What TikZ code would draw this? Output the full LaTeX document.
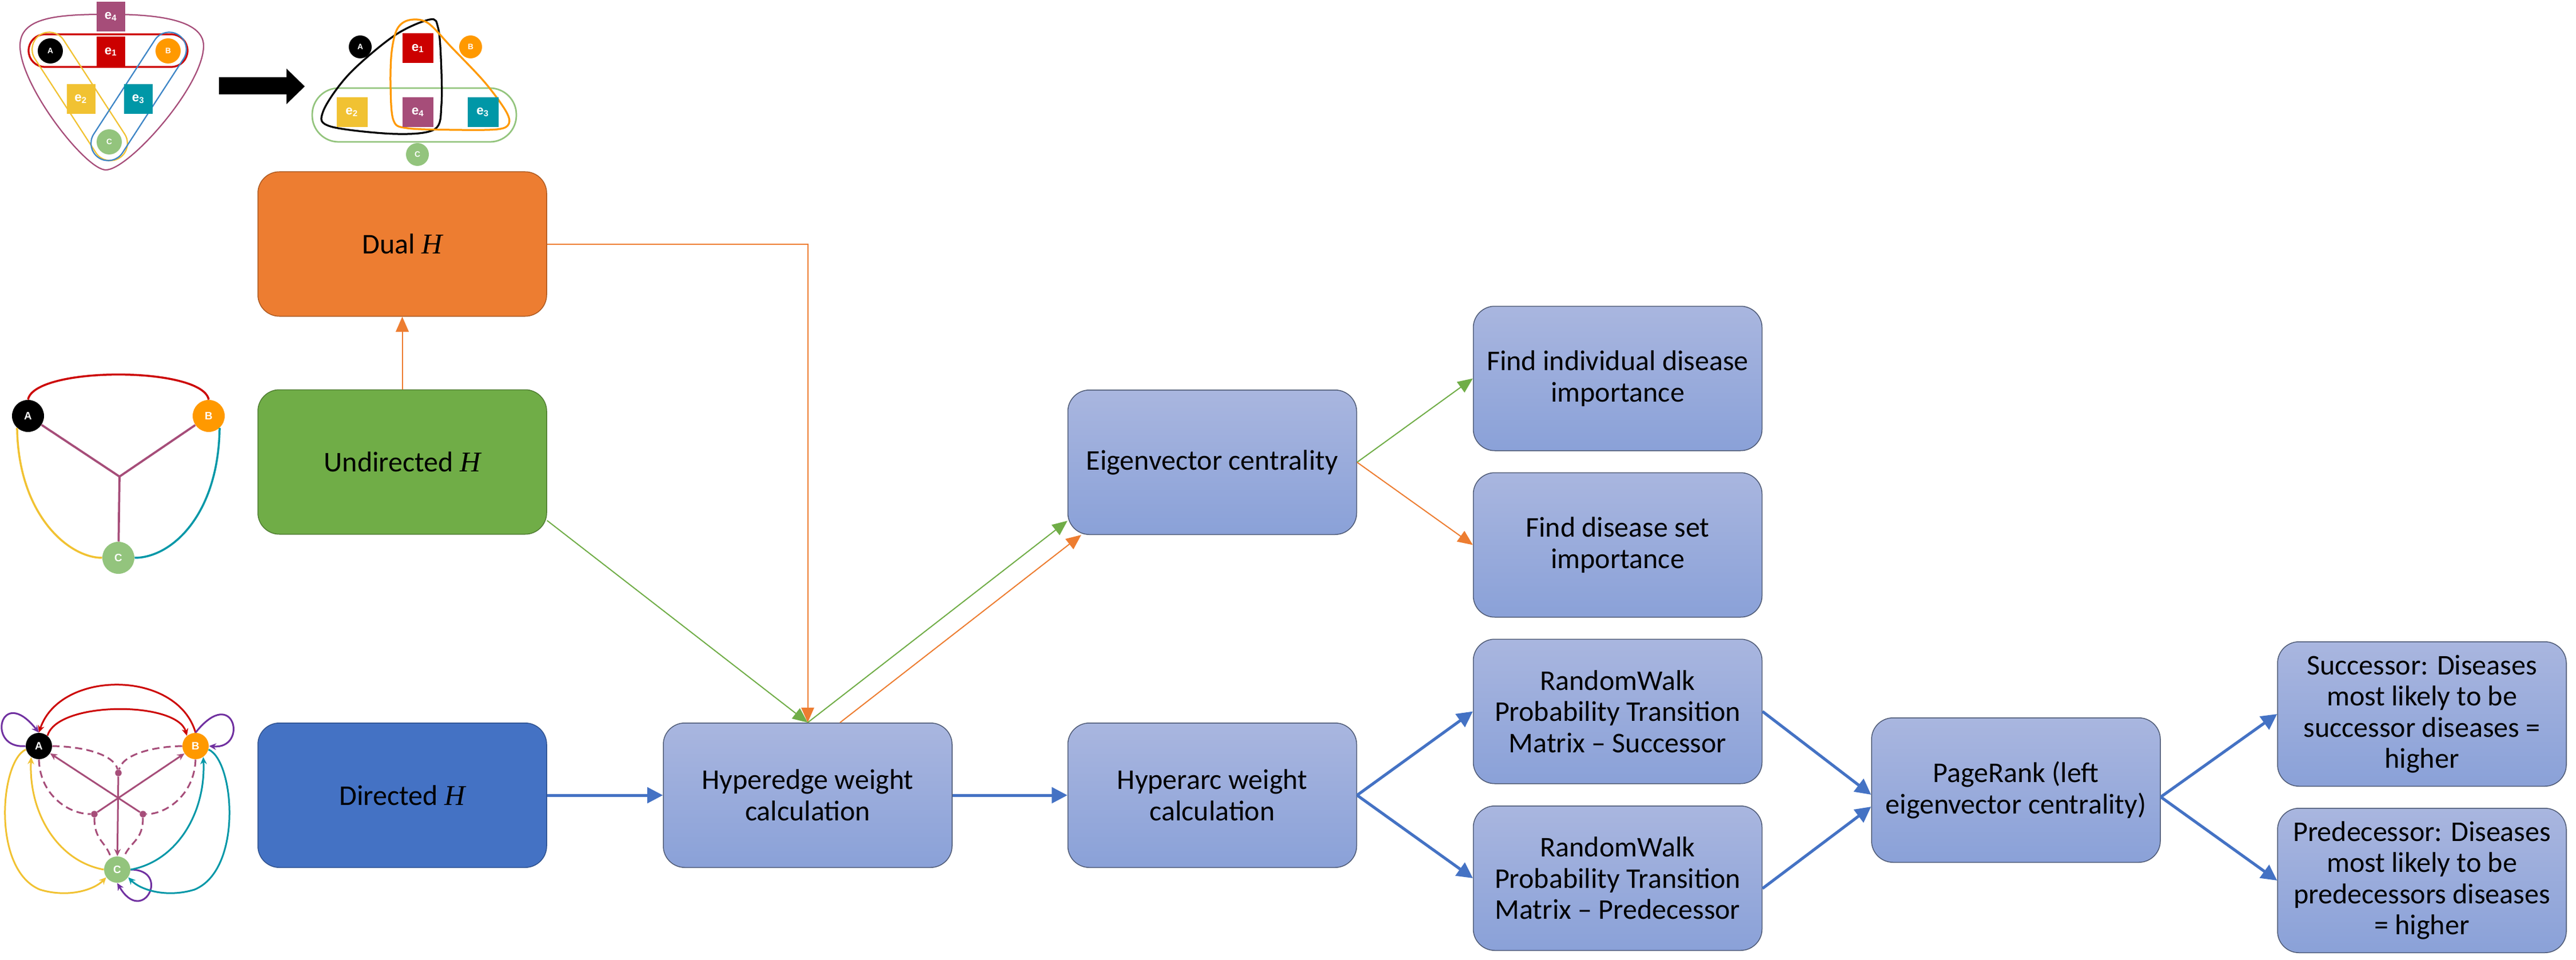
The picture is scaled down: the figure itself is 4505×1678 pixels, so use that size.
\documentclass[tikz,border=0pt]{standalone}
\usepackage{fontspec}
\setmainfont{Carlito}
\newfontfamily\hfont{Liberation Serif}
\newfontfamily\lsans{Liberation Sans}
\usetikzlibrary{arrows.meta,calc}
\definecolor{dualfill}{HTML}{ED7D31}
\definecolor{dualline}{HTML}{AE5A21}
\definecolor{undfill}{HTML}{70AD47}
\definecolor{undline}{HTML}{507E32}
\definecolor{dirfill}{HTML}{4472C4}
\definecolor{dirline}{HTML}{2F528F}
\definecolor{ltop}{HTML}{A9B6DF}
\definecolor{lbot}{HTML}{8AA1D8}
\definecolor{lline}{HTML}{4E5A75}
\definecolor{arrblue}{HTML}{4472C4}
\definecolor{arrorange}{HTML}{ED7D31}
\definecolor{arrgreen}{HTML}{70AD47}
\definecolor{nB}{HTML}{FF9900}
\definecolor{nC}{HTML}{93C47D}
\definecolor{ered}{HTML}{CC0000}
\definecolor{eyel}{HTML}{F1C232}
\definecolor{eteal}{HTML}{0097A7}
\definecolor{epur}{HTML}{A64D79}
\definecolor{loopp}{HTML}{7030A0}
\definecolor{eblue}{HTML}{3D85C6}
\newcommand\boxfont{\fontsize{20}{21.8}\selectfont}
\newcommand\Hsym{{\hfont\itshape H}}
\begin{document}
\begin{tikzpicture}[x=0.4pt,y=-0.4pt,
  box/.style={rounded corners=15pt, minimum width=202pt, minimum height=101pt, align=center, font=\boxfont, inner sep=2pt},
  lbox/.style={box, draw=lline, line width=0.6pt, top color=ltop, bottom color=lbot},
  thinO/.style={draw=arrorange, line width=0.8pt, -{Triangle[length=10.5pt,width=9pt]}},
  thinG/.style={draw=arrgreen, line width=0.8pt, -{Triangle[length=10.5pt,width=9pt]}},
  bigB/.style={draw=arrblue, line width=2pt, -{Triangle[length=11pt,width=11pt]}},
  esq/.style={minimum width=20pt, minimum height=20.8pt, inner sep=0pt, text=white, font=\lsans\bfseries\fontsize{9}{9}\selectfont},
  scirc/.style={circle, minimum size=17pt, inner sep=0pt, text=white, font=\lsans\bfseries\fontsize{5.5}{5.5}\selectfont},
  ucirc/.style={circle, minimum size=22.4pt, inner sep=0pt, text=white, font=\lsans\bfseries\fontsize{7.5}{7.5}\selectfont},
  dcirc/.style={circle, minimum size=18.4pt, inner sep=0pt, text=white, font=\lsans\bfseries\fontsize{7.5}{7.5}\selectfont},
  dot/.style={circle, fill=epur, minimum size=4.6pt, inner sep=0pt},
  dtip/.style={-{Stealth[length=5pt,width=4.6pt]}},
  dash2/.style={epur, line width=1.2pt, dash pattern=on 5pt off 3pt},
]
\useasboundingbox (0,0) rectangle (4505,1678);

% ---------- top-left hypergraph ----------
\draw[epur, line width=0.9pt] (191,25) .. controls (265,25) and (356,32) .. (356,80)
  .. controls (356,150) and (225,297) .. (185,297)
  .. controls (150,297) and (35,150) .. (35,80)
  .. controls (35,30) and (100,25) .. (191,25) -- cycle;
\draw[ered, line width=1.3pt, rounded corners=11.4pt] (50,60) rectangle (328,117);
\begin{scope}[shift={(139.5,168.5)}, rotate=-57]
  \draw[eyel, line width=0.9pt, rounded corners=12pt] (-128,-30) rectangle (128,30);
\end{scope}
\begin{scope}[shift={(242.5,168.5)}, rotate=57]
  \draw[eblue, line width=0.9pt, rounded corners=12pt] (-128,-30) rectangle (128,30);
\end{scope}
\node[esq, fill=epur] (le4) at (194,29) {e\textsubscript{4}};
\node[esq, fill=ered] (le1) at (194,90.5) {e\textsubscript{1}};
\node[esq, fill=eyel] (le2) at (141.5,173) {e\textsubscript{2}};
\node[esq, fill=eteal] (le3) at (242,173) {e\textsubscript{3}};
\node[scirc, fill=black, minimum size=17.6pt] (lA) at (88,89) {A};
\node[scirc, fill=nB, minimum size=17.6pt] (lB) at (294,89) {B};
\node[scirc, fill=nC, minimum size=17.6pt] (lC) at (191,248) {C};

% big black arrow
\fill (383,135) -- (501,135) -- (501,120) -- (533,151) -- (501,182) -- (501,165) -- (383,165) -- cycle;

% ---------- top-right dual ----------
\draw[nC, line width=1.1pt, rounded corners=18.5pt] (546,154) rectangle (903,248);
\draw[black, line width=1.3pt] plot[smooth cycle, tension=0.55] coordinates {(752,34) (690,62) (610,130) (565,195) (578,221) (690,234) (760,226) (772,183) (771,100) (766,48)};
\draw[nB, line width=1.3pt] plot[smooth cycle, tension=0.55] coordinates {(716,35) (748,40) (790,83) (847,143) (884,193) (890,216) (870,226) (797,227) (712,224) (688,210) (683,150) (685,90) (695,50)};
\node[esq, fill=ered, minimum width=21.6pt] (re1) at (731,84.5) {e\textsubscript{1}};
\node[esq, fill=eyel, minimum width=21.6pt] (re2) at (615.5,196) {e\textsubscript{2}};
\node[esq, fill=epur, minimum width=21.6pt] (re4) at (731,196) {e\textsubscript{4}};
\node[esq, fill=eteal, minimum width=21.6pt] (re3) at (844.5,196) {e\textsubscript{3}};
\node[scirc, fill=black, minimum size=16pt] (rA) at (630,82) {A};
\node[scirc, fill=nB, minimum size=16pt] (rB) at (823,82) {B};
\node[scirc, fill=nC, minimum size=16pt] (rC) at (730,270) {C};

% ---------- undirected graph ----------
\node[ucirc, fill=black] (uA) at (49,727) {A};
\node[ucirc, fill=nB] (uB) at (365,727) {B};
\node[ucirc, fill=nC] (uC) at (207,975) {C};
\coordinate (uJ) at (209,833);
\draw[ered, line width=1.4pt] (uA.north) .. controls (60,640) and (354,640) .. (uB.north);
\draw[eyel, line width=1.4pt] (uA.228) .. controls (32,900) and (120,975) .. (uC.west);
\draw[eteal, line width=1.4pt] (uB.-48) .. controls (382,900) and (300,975) .. (uC.east);
\draw[epur, line width=1.5pt] (uA) -- (uJ) -- (uC);
\draw[epur, line width=1.5pt] (uB) -- (uJ);

% ---------- directed graph ----------
\node[dcirc, fill=black] (dA) at (68,1304) {A};
\node[dcirc, fill=nB] (dB) at (342,1304) {B};
\node[dcirc, fill=nC] (dC) at (205,1520) {C};
\node[dot] (dT) at (207,1351) {};
\node[dot] (dL) at (165,1423) {};
\node[dot] (dR) at (250,1423) {};
\draw[ered, line width=1.2pt, dtip] (dB.north) .. controls (310,1170) and (105,1170) .. (dA.north);
\draw[ered, line width=1.2pt, dtip] (dA.50) .. controls (100,1225) and (310,1225) .. (dB.130);
\draw[loopp, line width=1.2pt, dtip] (dA.west) .. controls (-25,1310) and (0,1195) .. (dA.north);
\draw[loopp, line width=1.2pt, dtip] (dB.north) .. controls (410,1195) and (435,1310) .. (dB.east);
\draw[loopp, line width=1.2pt, dtip] (dC.east) .. controls (300,1520) and (250,1620) .. (dC.south);
\draw[eyel, line width=1.2pt, dtip] (dC.west) .. controls (100,1505) and (50,1420) .. (dA.235);
\draw[eyel, line width=1.2pt, dtip] (dA.195) .. controls (0,1330) and (-15,1520) .. (70,1555) .. controls (120,1570) and (165,1555) .. (dC.215);
\draw[eteal, line width=1.2pt, dtip] (dC.east) .. controls (310,1505) and (360,1420) .. (dB.305);
\draw[eteal, line width=1.2pt, dtip] (dB.-15) .. controls (410,1330) and (425,1520) .. (340,1555) .. controls (290,1570) and (245,1555) .. (dC.325);
\draw[dash2] (dA.east) .. controls (150,1305) and (200,1320) .. (dT);
\draw[dash2] (dB.west) .. controls (264,1305) and (214,1320) .. (dT);
\draw[dash2] (dA.south) .. controls (70,1390) and (120,1423) .. (dL);
\draw[dash2] (dB.south) .. controls (340,1390) and (290,1423) .. (dR);
\draw[dash2] (dL) .. controls (165,1470) and (185,1470) .. (dC.118);
\draw[dash2] (dR) .. controls (250,1470) and (228,1470) .. (dC.62);
\draw[epur, line width=1.2pt, dtip] (dT) -- (dC);
\draw[epur, line width=1.2pt, dtip] (dL) -- (dB);
\draw[epur, line width=1.2pt, dtip] (dR) -- (dA);

% ---------- flow boxes ----------
\node[box, fill=dualfill, draw=dualline, line width=0.6pt] (dual) at (703.5,426.5) {Dual \Hsym};
\node[box, fill=undfill, draw=undline, line width=0.6pt] (undir) at (703.5,807.5) {Undirected \Hsym};
\node[box, fill=dirfill, draw=dirline, line width=0.6pt] (dir) at (703.5,1390) {Directed \Hsym};
\node[lbox] (hedge) at (1412.5,1390) {Hyperedge weight\\calculation};
\node[lbox] (eig) at (2120,808) {Eigenvector centrality};
\node[lbox] (harc) at (2120,1390) {Hyperarc weight\\calculation};
\node[lbox] (findind) at (2829,661.5) {Find individual disease\\importance};
\node[lbox] (findset) at (2829,952.5) {Find disease set\\importance};
\node[lbox] (rwsucc) at (2829,1243.5) {RandomWalk\\Probability Transition\\Matrix – Successor};
\node[lbox] (rwpred) at (2829,1535) {RandomWalk\\Probability Transition\\Matrix – Predecessor};
\node[lbox] (pr) at (3525.5,1381) {PageRank (left\\eigenvector centrality)};
\node[lbox] (succres) at (4235.5,1248) {Successor: Diseases\\most likely to be\\successor diseases =\\higher};
\node[lbox] (predres) at (4235.5,1539) {Predecessor: Diseases\\most likely to be\\predecessors diseases\\= higher};

% ---------- connectors ----------
\draw[thinO] (undir) -- (dual);
\draw[thinO] (dual.east) -| (hedge.north);
\draw[thinG] (undir.-22) -- (hedge.north);
\draw[thinG] (hedge.north) -- (eig.202);
\draw[thinO] (hedge.66) -- (eig.209);
\draw[thinG] (eig.east) -- (findind.west);
\draw[thinO] (eig.east) -- (findset.west);
\draw[bigB] (dir) -- (hedge);
\draw[bigB] (hedge) -- (harc);
\draw[bigB] (harc.east) -- (rwsucc.west);
\draw[bigB] (harc.east) -- (rwpred.west);
\draw[bigB] (rwsucc.east) -- ($(pr.west)+(0,8)$);
\draw[bigB] ($(rwpred.east)+(0,18)$) -- ($(pr.west)+(0,29)$);
\draw[bigB] ($(pr.east)+(0,12)$) -- (succres.west);
\draw[bigB] ($(pr.east)+(0,12)$) -- (predres.west);
\end{tikzpicture}
\end{document}
